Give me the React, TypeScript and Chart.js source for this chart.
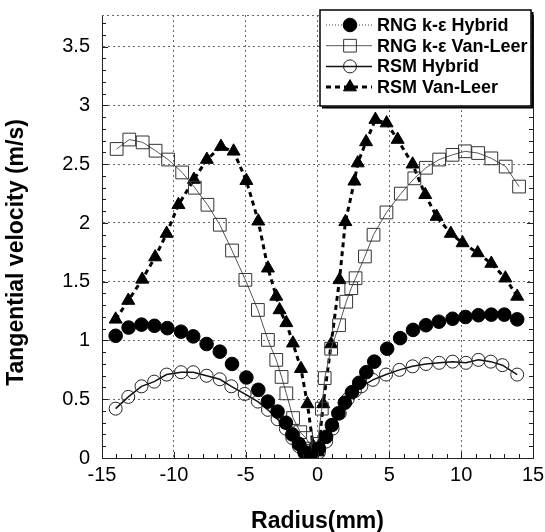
import React, { useEffect, useRef } from 'react';
import { Chart, registerables } from 'chart.js';
Chart.register(...registerables);

const seriesLabels = ['RNG k-ε Hybrid', 'RNG k-ε Van-Leer', 'RSM Hybrid', 'RSM Van-Leer'];
const xTitle = 'Radius(mm)';
const yTitle = 'Tangential velocity (m/s)';
const xTickValues = [-15, -10, -5, 0, 5, 10, 15];
const yTickValues = [0, 0.5, 1, 1.5, 2, 2.5, 3, 3.5];

const rngHybridX = [-14.05, -13.15, -12.25, -11.35, -10.45, -9.5, -8.65, -7.72, -6.8, -5.95, -4.95, -4.12, -3.45, -2.78, -2.2, -1.75, -1.3, -0.9, -0.5,
  0.1, 0.6, 1.0, 1.45, 1.9, 2.4, 2.9, 3.4, 3.95, 4.85, 5.75, 6.65, 7.55, 8.45, 9.4, 10.3, 11.2, 12.1, 13.0, 13.9];
const rngHybridY = [1.04, 1.11, 1.135, 1.125, 1.105, 1.075, 1.035, 0.97, 0.905, 0.8, 0.685, 0.58, 0.48, 0.395, 0.3, 0.2, 0.12, 0.05, 0.0,
  0.08, 0.18, 0.28, 0.38, 0.47, 0.56, 0.64, 0.73, 0.82, 0.93, 1.02, 1.09, 1.13, 1.16, 1.185, 1.2, 1.215, 1.22, 1.22, 1.18];

const rngVanLeerX = [-13.98, -13.1, -12.17, -11.27, -10.4, -9.42, -8.54, -7.66, -6.8, -5.95, -5.02, -4.15, -3.45, -2.87, -2.5, -2.17, -1.7, -1.2, -0.8, -0.35,
  0.0, 0.3, 0.5, 0.95, 1.5, 2.0, 2.35, 2.65, 3.3, 3.9, 4.8, 5.8, 6.74, 7.55, 8.47, 9.4, 10.26, 11.18, 12.1, 13.1, 14.03];
const rngVanLeerY = [2.63, 2.71, 2.686, 2.615, 2.54, 2.43, 2.3, 2.155, 1.985, 1.766, 1.516, 1.26, 1.005, 0.835, 0.69, 0.55, 0.34, 0.22, 0.17, 0.08,
  0.12, 0.42, 0.68, 0.93, 1.13, 1.33, 1.445, 1.53, 1.715, 1.9, 2.09, 2.25, 2.38, 2.47, 2.54, 2.58, 2.61, 2.595, 2.55, 2.48, 2.31];

const rsmHybridX = [-14.05, -13.17, -12.25, -11.37, -10.5, -9.5, -8.65, -7.72, -6.8, -6.0, -5.07, -4.15, -3.45, -2.78, -2.2, -1.75, -1.3, -0.9, -0.5,
  0.1, 0.6, 1.05, 1.55, 2.1, 2.6, 3.05, 3.85, 4.77, 5.7, 6.62, 7.55, 8.47, 9.4, 10.33, 11.2, 12.06, 12.87, 13.9];
const rsmHybridY = [0.42, 0.52, 0.61, 0.65, 0.71, 0.73, 0.73, 0.7, 0.67, 0.61, 0.545, 0.48, 0.41, 0.33, 0.25, 0.17, 0.1, 0.04, 0.01,
  0.05, 0.14, 0.25, 0.38, 0.5, 0.57, 0.61, 0.665, 0.71, 0.75, 0.78, 0.8, 0.81, 0.82, 0.81, 0.835, 0.82, 0.79, 0.71];

const rsmVanLeerX = [-14.05, -13.17, -12.2, -11.3, -10.5, -9.68, -8.6, -7.7, -6.72, -5.84, -4.95, -4.12, -3.45, -2.87, -2.64, -2.17, -1.71, -1.15, -0.7, -0.3,
  0.05, 0.4, 0.95, 1.53, 1.94, 2.57, 2.8, 3.38, 4.03, 4.81, 5.58, 6.62, 7.5, 8.29, 9.28, 10.1, 11.15, 12.1, 13.08, 13.9];
const rsmVanLeerY = [1.18, 1.34, 1.52, 1.71, 1.91, 2.155, 2.37, 2.54, 2.65, 2.61, 2.36, 2.015, 1.615, 1.375, 1.26, 1.15, 0.977, 0.76, 0.46, 0.1,
  0.05, 0.46, 0.97, 1.516, 2.01, 2.355, 2.51, 2.69, 2.88, 2.85, 2.71, 2.5, 2.24, 2.055, 1.91, 1.83, 1.745, 1.655, 1.53, 1.375];

const toPoints = (xs: number[], ys: number[]) => xs.map((x, i) => ({ x, y: ys[i] }));

const FONT = '"Liberation Sans", Arial, sans-serif';

type Sty = { line: string; lw: number; dash: number[]; marker: string; fill: string; stroke: string; r: number };
const styles: Sty[] = [
  { line: '#444', lw: 1, dash: [1, 2], marker: 'circle', fill: '#000', stroke: '#000', r: 6.8 },
  { line: '#555', lw: 1, dash: [], marker: 'rect', fill: 'rgba(255,255,255,0)', stroke: '#333', r: 9 },
  { line: '#111', lw: 1.5, dash: [], marker: 'circle', fill: 'rgba(255,255,255,0)', stroke: '#222', r: 6.5 },
  { line: '#000', lw: 3, dash: [5, 4], marker: 'triangle', fill: '#000', stroke: '#000', r: 7.5 },
];

function drawMarker(ctx: CanvasRenderingContext2D, s: Sty, x: number, y: number) {
  ctx.save();
  ctx.setLineDash([]);
  ctx.fillStyle = s.fill;
  ctx.strokeStyle = s.stroke;
  ctx.lineWidth = 1;
  ctx.beginPath();
  if (s.marker === 'circle') {
    ctx.arc(x, y, s.r, 0, Math.PI * 2);
  } else if (s.marker === 'rect') {
    const h = s.r * Math.SQRT1_2;
    ctx.rect(x - h, y - h, 2 * h, 2 * h);
  } else {
    for (let k = 0; k < 3; k++) {
      const a = (k * 2 * Math.PI) / 3;
      const px = x + Math.sin(a) * s.r;
      const py = y - Math.cos(a) * s.r;
      if (k === 0) ctx.moveTo(px, py); else ctx.lineTo(px, py);
    }
    ctx.closePath();
  }
  ctx.fill();
  ctx.stroke();
  ctx.restore();
}

const decor = {
  id: 'decor',
  afterDraw(chart: any) {
    const { ctx, chartArea: a, scales } = chart;
    const xs = scales.x;
    const ys = scales.y;
    const seg = (x1: number, y1: number, x2: number, y2: number) => {
      ctx.beginPath();
      ctx.moveTo(x1, y1);
      ctx.lineTo(x2, y2);
      ctx.stroke();
    };
    ctx.save();
    // top dotted edge
    ctx.strokeStyle = '#666';
    ctx.lineWidth = 1;
    ctx.setLineDash([2, 3]);
    seg(a.left, a.top + 0.5, a.right, a.top + 0.5);
    // right frame
    ctx.setLineDash([]);
    ctx.strokeStyle = '#222';
    seg(a.right + 0.5, a.top, a.right + 0.5, a.bottom);
    // minor/major inward ticks
    for (let v = -15; v <= 15; v++) {
      const px = Math.round(xs.getPixelForValue(v)) + 0.5;
      const len = v % 5 === 0 ? 6 : 4;
      seg(px, a.bottom, px, a.bottom - len);
    }
    for (let i = 0; i <= 37; i++) {
      const py = Math.round(ys.getPixelForValue(i / 10)) + 0.5;
      const len = i % 5 === 0 ? 6 : 4;
      seg(a.left, py, a.left + len, py);
      seg(a.right, py, a.right - len, py);
    }
    // axis titles
    ctx.fillStyle = '#000';
    ctx.font = `bold 23px ${FONT}`;
    ctx.textAlign = 'center';
    ctx.textBaseline = 'middle';
    ctx.fillText(xTitle, (a.left + a.right) / 2, a.bottom + 64);
    ctx.save();
    ctx.translate(17, (a.top + a.bottom) / 2 + 16);
    ctx.rotate(-Math.PI / 2);
    ctx.fillText(yTitle, 0, 0);
    ctx.restore();
    // legend
    const bx = 320, by = 10, bw = 211, bh = 96;
    ctx.fillStyle = '#fff';
    ctx.fillRect(bx, by, bw, bh);
    ctx.strokeStyle = '#000';
    ctx.lineWidth = 1.5;
    ctx.strokeRect(bx, by, bw, bh);
    ctx.lineWidth = 2;
    seg(bx + bw + 1.5, by + 2, bx + bw + 1.5, by + bh + 2);
    seg(bx + 2, by + bh + 1.5, bx + bw + 2, by + bh + 1.5);
    ctx.font = `bold 18px ${FONT}`;
    ctx.textAlign = 'left';
    ctx.textBaseline = 'middle';
    seriesLabels.forEach((lab, i) => {
      const s = styles[i];
      const yy = by + 15 + i * 20.7;
      ctx.save();
      ctx.strokeStyle = s.line;
      ctx.lineWidth = s.lw;
      ctx.setLineDash(s.dash);
      seg(bx + 6, yy, bx + 52, yy);
      ctx.restore();
      drawMarker(ctx, s, bx + 30, yy);
      ctx.fillStyle = '#000';
      ctx.fillText(lab, bx + 57, yy + 1);
    });
    ctx.restore();
  },
};

export default function App() {
  const ref = useRef<HTMLCanvasElement>(null);
  useEffect(() => {
    if (!ref.current) return;
    const series = [
      toPoints(rngHybridX, rngHybridY),
      toPoints(rngVanLeerX, rngVanLeerY),
      toPoints(rsmHybridX, rsmHybridY),
      toPoints(rsmVanLeerX, rsmVanLeerY),
    ];
    const chart = new Chart(ref.current, {
      type: 'scatter',
      data: {
        datasets: series.map((d, i) => {
          const s = styles[i];
          return {
            label: seriesLabels[i],
            data: d,
            showLine: true,
            tension: 0,
            borderColor: s.line,
            borderWidth: s.lw,
            borderDash: s.dash,
            pointStyle: s.marker,
            pointRadius: s.r,
            pointBackgroundColor: s.fill,
            pointBorderColor: s.stroke,
            pointBorderWidth: 1,
          } as any;
        }),
      },
      options: {
        responsive: false,
        animation: false,
        events: [],
        layout: { padding: { left: 0, right: 12, top: 15, bottom: 0 } },
        plugins: { legend: { display: false }, tooltip: { enabled: false }, title: { display: false } },
        scales: {
          x: {
            type: 'linear',
            min: -15,
            max: 15,
            afterBuildTicks: (sc: any) => { sc.ticks = xTickValues.map((v) => ({ value: v })); },
            afterFit: (sc: any) => { sc.height = 74; sc.paddingLeft = 0; sc.paddingRight = 0; },
            ticks: { font: { family: FONT, size: 20 }, color: '#000', padding: 5, maxRotation: 0, autoSkip: false },
            grid: { color: '#666', lineWidth: 1, drawTicks: false },
            border: { display: true, color: '#222', width: 1, dash: [2, 3] },
          },
          y: {
            type: 'linear',
            min: 0,
            max: 3.77,
            afterBuildTicks: (sc: any) => { sc.ticks = yTickValues.map((v) => ({ value: v })); },
            afterFit: (sc: any) => { sc.width = 102; sc.paddingTop = 0; sc.paddingBottom = 0; },
            ticks: { font: { family: FONT, size: 20 }, color: '#000', padding: 12, autoSkip: false, callback: (v: any) => String(v) },
            grid: { color: '#666', lineWidth: 1, drawTicks: false },
            border: { display: true, color: '#222', width: 1, dash: [2, 3] },
          },
        },
      } as any,
      plugins: [decor],
    });
    return () => chart.destroy();
  }, []);
  return (
    <div style={{ position: 'fixed', left: 0, top: 0, width: 545, height: 532, background: '#fff' }}>
      <canvas ref={ref} width={545} height={532} />
    </div>
  );
}
